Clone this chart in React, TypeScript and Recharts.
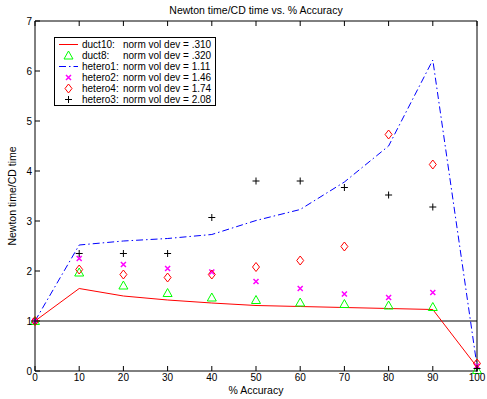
import { ComposedChart, Legend, Line, ReferenceLine, XAxis, YAxis } from "recharts";

const accuracy = [0, 10, 20, 30, 40, 50, 60, 70, 80, 90, 100];
const duct10 = [1, 1.65, 1.5, 1.42, 1.36, 1.31, 1.29, 1.27, 1.25, 1.23, 0.08];
const duct8 = [1, 1.97, 1.71, 1.56, 1.47, 1.42, 1.37, 1.34, 1.31, 1.28, 0.02];
const hetero1 = [1, 2.52, 2.6, 2.65, 2.73, 3.01, 3.23, 3.78, 4.5, 6.22, 0.1];
const hetero2 = [1, 2.25, 2.13, 2.05, 1.98, 1.79, 1.65, 1.54, 1.47, 1.57, 0.1];
const hetero4 = [1, 2.03, 1.93, 1.87, 1.93, 2.08, 2.21, 2.49, 4.73, 4.13, 0.15];
const hetero3 = [1, 2.35, 2.35, 2.35, 3.07, 3.8, 3.8, 3.67, 3.52, 3.28, 0.05];

const xTicks = [0, 10, 20, 30, 40, 50, 60, 70, 80, 90, 100];
const yTicks = [0, 1, 2, 3, 4, 5, 6, 7];

const legendRows = [
  { name: "duct10:", dev: ".310", kind: "line" },
  { name: "duct8:", dev: ".320", kind: "triangle" },
  { name: "hetero1:", dev: "1.11", kind: "dashdot" },
  { name: "hetero2:", dev: "1.46", kind: "x" },
  { name: "hetero4:", dev: "1.74", kind: "diamond" },
  { name: "hetero3:", dev: "2.08", kind: "plus" },
];

const data = accuracy.map((x, i) => ({
  x,
  duct10: duct10[i],
  duct8: duct8[i],
  hetero1: hetero1[i],
  hetero2: hetero2[i],
  hetero4: hetero4[i],
  hetero3: hetero3[i],
}));

const FONT = '"Liberation Sans", Arial, Helvetica, sans-serif';
const DASHDOT = "7 3 1.5 3";

function Marker({ kind, cx, cy }: { kind: string; cx: number; cy: number }) {
  if (kind === "triangle")
    return <path d={`M${cx},${cy - 4.5}L${cx + 4.5},${cy + 3.5}L${cx - 4.5},${cy + 3.5}Z`} fill="none" stroke="#00ff00" strokeWidth={1} />;
  if (kind === "x")
    return (
      <path d={`M${cx - 2.5},${cy - 2.5}L${cx + 2.5},${cy + 2.5}M${cx - 2.5},${cy + 2.5}L${cx + 2.5},${cy - 2.5}`} stroke="#ff00ff" strokeWidth={1.5} />
    );
  if (kind === "diamond")
    return <path d={`M${cx},${cy - 4.5}L${cx + 3.5},${cy}L${cx},${cy + 4.5}L${cx - 3.5},${cy}Z`} fill="none" stroke="#ff0000" strokeWidth={1} />;
  if (kind === "plus")
    return <path d={`M${cx - 3.5},${cy}L${cx + 3.5},${cy}M${cx},${cy - 3.5}L${cx},${cy + 3.5}`} stroke="#000" strokeWidth={1} />;
  return null;
}

function dotFor(kind: string) {
  return (props: any) => (
    <g key={`${kind}-${props.index}`}>
      <Marker kind={kind} cx={props.cx} cy={props.cy} />
    </g>
  );
}

function LegendBox() {
  return (
    <div
      style={{
        width: 162,
        height: 69,
        border: "1px solid #000",
        background: "#fff",
        fontFamily: FONT,
        fontSize: 10,
        color: "#000",
        boxSizing: "border-box",
        paddingTop: 1,
      }}
    >
      {legendRows.map((r) => (
        <div key={r.name} style={{ display: "flex", alignItems: "center", height: 11 }}>
          <svg width={26} height={11} style={{ marginLeft: 1, flexShrink: 0 }}>
            {r.kind === "line" && <line x1={3} x2={22} y1={5.5} y2={5.5} stroke="#ff0000" />}
            {r.kind === "dashdot" && <line x1={3} x2={22} y1={5.5} y2={5.5} stroke="#0000ff" strokeDasharray={DASHDOT} />}
            <Marker kind={r.kind} cx={12.5} cy={5.5} />
          </svg>
          <span style={{ width: 41, flexShrink: 0, whiteSpace: "nowrap" }}>{r.name}</span>
          <span style={{ whiteSpace: "nowrap" }}>norm vol dev = {r.dev}</span>
        </div>
      ))}
    </div>
  );
}

export default function App() {
  const tickStyle = { fontSize: 10, fill: "#000", fontFamily: FONT };
  return (
    <div style={{ position: "relative", width: 487, height: 399, background: "#fff" }}>
      <style>{`body{margin:0}`}</style>
      <div
        style={{
          position: "absolute",
          left: 35,
          width: 442,
          top: 4,
          textAlign: "center",
          fontFamily: FONT,
          fontSize: 10.5,
          color: "#000",
        }}
      >
        Newton time/CD time vs. % Accuracy
      </div>
      <div
        style={{
          position: "absolute",
          left: 12,
          top: 196,
          transform: "translate(-50%, -50%) rotate(-90deg)",
          whiteSpace: "nowrap",
          fontFamily: FONT,
          fontSize: 10.5,
          color: "#000",
        }}
      >
        Newton time/CD time
      </div>
      <ComposedChart width={487} height={399} data={data} margin={{ top: 0, right: 0, bottom: 0, left: 0 }}>
        <XAxis
          dataKey="x"
          type="number"
          domain={[0, 100]}
          ticks={xTicks}
          height={28}
          tickSize={-5}
          tickMargin={8}
          tick={tickStyle}
          stroke="#000"
          interval={0}
          label={{ value: "% Accuracy", position: "insideBottom", offset: 5, style: { fontSize: 10.5, fill: "#000", fontFamily: FONT } }}
        />
        <XAxis
          xAxisId="top"
          orientation="top"
          dataKey="x"
          type="number"
          domain={[0, 100]}
          ticks={xTicks}
          height={21}
          tickSize={-5}
          tickFormatter={() => ""}
          stroke="#000"
          interval={0}
        />
        <YAxis
          type="number"
          domain={[0, 7]}
          ticks={yTicks}
          width={35}
          tickSize={-5}
          tickMargin={8}
          tick={tickStyle}
          stroke="#000"
          interval={0}
        />
        <YAxis
          yAxisId="right"
          orientation="right"
          type="number"
          domain={[0, 7]}
          ticks={yTicks}
          width={10}
          tickSize={-5}
          tickFormatter={() => ""}
          stroke="#000"
          interval={0}
        />
        <ReferenceLine y={1} stroke="#000" strokeWidth={1} />
        <Line dataKey="hetero1" stroke="#0000ff" strokeDasharray={DASHDOT} strokeWidth={1} dot={false} activeDot={false} isAnimationActive={false} type="linear" />
        <Line dataKey="duct10" stroke="#ff0000" strokeWidth={1} dot={false} activeDot={false} isAnimationActive={false} type="linear" />
        <Line dataKey="duct8" stroke="none" dot={dotFor("triangle")} activeDot={false} isAnimationActive={false} />
        <Line dataKey="hetero2" stroke="none" dot={dotFor("x")} activeDot={false} isAnimationActive={false} />
        <Line dataKey="hetero4" stroke="none" dot={dotFor("diamond")} activeDot={false} isAnimationActive={false} />
        <Line dataKey="hetero3" stroke="none" dot={dotFor("plus")} activeDot={false} isAnimationActive={false} />
        <Legend
          layout="horizontal"
          verticalAlign="middle"
          align="center"
          content={() => <LegendBox />}
          wrapperStyle={{ position: "absolute", left: 54, top: 37, width: 162, height: 69 }}
        />
      </ComposedChart>
    </div>
  );
}
